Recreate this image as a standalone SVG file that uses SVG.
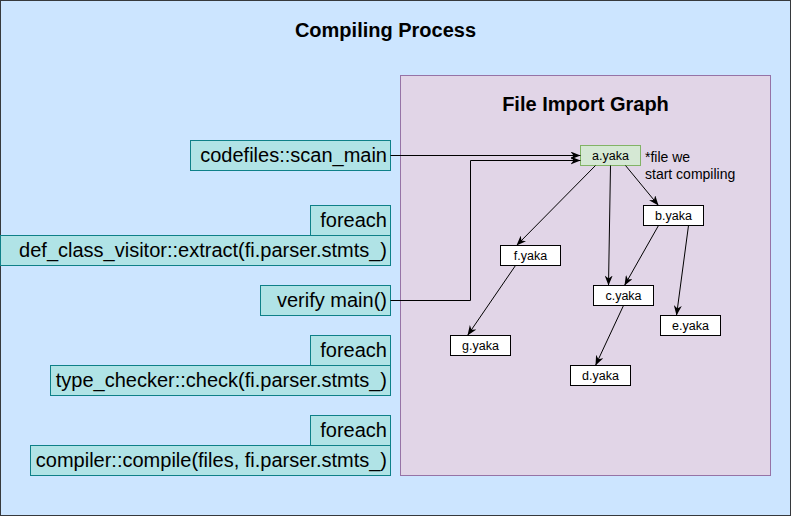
<svg xmlns="http://www.w3.org/2000/svg" width="791" height="516" viewBox="0 0 791 516">
<defs>
<style>
.outer{fill:#cce5ff;stroke:#36393d;stroke-width:1}
.graph{fill:#e1d5e7;stroke:#9673a6;stroke-width:1}
.step{fill:#b0e3e6;stroke:#0e8088;stroke-width:1}
.file{fill:#ffffff;stroke:#000000;stroke-width:1}
.start{fill:#d5e8d4;stroke:#82b366;stroke-width:1}
.title{font-family:"Liberation Sans",Arial,Helvetica,sans-serif;font-weight:bold;font-size:20px;fill:#000;text-anchor:middle}
.st{font-family:"Liberation Sans",Arial,Helvetica,sans-serif;font-size:20px;fill:#000;text-anchor:end}
.ft{font-family:"Liberation Sans",Arial,Helvetica,sans-serif;font-size:12.5px;fill:#000;text-anchor:middle}
.note{font-family:"Liberation Sans",Arial,Helvetica,sans-serif;font-size:14px;fill:#000}
.edge{fill:none;stroke:#000;stroke-width:1;marker-end:url(#arr)}
</style>
<marker id="arr" viewBox="0 0 10 8" refX="10" refY="4" markerWidth="10" markerHeight="8" markerUnits="userSpaceOnUse" orient="auto">
<path d="M0,0 L10,4 L0,8 L3,4 z" fill="#000"/>
</marker>
</defs>
<g id="compiling-process">
<rect class="outer" x="0.5" y="0.5" width="790" height="515"/>
<text class="title" x="385.5" y="37">Compiling Process</text>
</g>
<g id="file-import-graph">
<rect class="graph" x="400.5" y="75.5" width="370" height="400"/>
<text class="title" x="585.5" y="111">File Import Graph</text>
</g>
<g id="scan-main">
<rect class="step" x="190.5" y="140.5" width="200" height="30"/>
<text class="st" x="387" y="162">codefiles::scan_main</text>
</g>
<g id="foreach-1">
<rect class="step" x="310.5" y="205.5" width="80" height="30"/>
<text class="st" x="387" y="227">foreach</text>
</g>
<g id="extract">
<rect class="step" x="0.5" y="235.5" width="390" height="30"/>
<text class="st" x="387" y="257">def_class_visitor::extract(fi.parser.stmts_)</text>
</g>
<g id="verify-main">
<rect class="step" x="260.5" y="285.5" width="130" height="30"/>
<text class="st" x="387" y="307">verify main()</text>
</g>
<g id="foreach-2">
<rect class="step" x="310.5" y="335.5" width="80" height="30"/>
<text class="st" x="387" y="357">foreach</text>
</g>
<g id="check">
<rect class="step" x="50.5" y="365.5" width="340" height="30"/>
<text class="st" x="387" y="387">type_checker::check(fi.parser.stmts_)</text>
</g>
<g id="foreach-3">
<rect class="step" x="310.5" y="415.5" width="80" height="30"/>
<text class="st" x="387" y="437">foreach</text>
</g>
<g id="compile">
<rect class="step" x="30.5" y="445.5" width="360" height="30"/>
<text class="st" x="387" y="467">compiler::compile(files, fi.parser.stmts_)</text>
</g>
<g id="a-yaka">
<rect class="start" x="580.5" y="145.5" width="60" height="20"/>
<text class="ft" x="610.5" y="160">a.yaka</text>
</g>
<g id="note">
<text class="note" x="645" y="162">*file we</text>
<text class="note" x="645" y="179">start compiling</text>
</g>
<g id="b-yaka">
<rect class="file" x="643.5" y="205.5" width="60" height="20"/>
<text class="ft" x="673.5" y="220">b.yaka</text>
</g>
<g id="f-yaka">
<rect class="file" x="500.5" y="245.5" width="60" height="20"/>
<text class="ft" x="530.5" y="260">f.yaka</text>
</g>
<g id="c-yaka">
<rect class="file" x="593.5" y="285.5" width="60" height="20"/>
<text class="ft" x="623.5" y="300">c.yaka</text>
</g>
<g id="e-yaka">
<rect class="file" x="660.5" y="315.5" width="60" height="20"/>
<text class="ft" x="690.5" y="330">e.yaka</text>
</g>
<g id="g-yaka">
<rect class="file" x="450.5" y="335.5" width="60" height="20"/>
<text class="ft" x="480.5" y="350">g.yaka</text>
</g>
<g id="d-yaka">
<rect class="file" x="570.5" y="365.5" width="60" height="20"/>
<text class="ft" x="600.5" y="380">d.yaka</text>
</g>
<g id="connectors">
<path class="edge" d="M390.5,155.5 L580.5,155.5"/>
<path class="edge" d="M390.5,300.5 L470.5,300.5 L470.5,160.5 L580.5,160.5"/>
<path class="edge" d="M595.5,165.5 L516.5,245.5"/>
<path class="edge" d="M610.5,165.5 L608.5,285.5"/>
<path class="edge" d="M625.5,165.5 L658.5,205.5"/>
<path class="edge" d="M658.5,225.5 L624.5,285.5"/>
<path class="edge" d="M688.5,225.5 L676.5,315.5"/>
<path class="edge" d="M515.5,265.5 L467.5,335.5"/>
<path class="edge" d="M623.5,305.5 L595.5,365.5"/>
</g>
</svg>
